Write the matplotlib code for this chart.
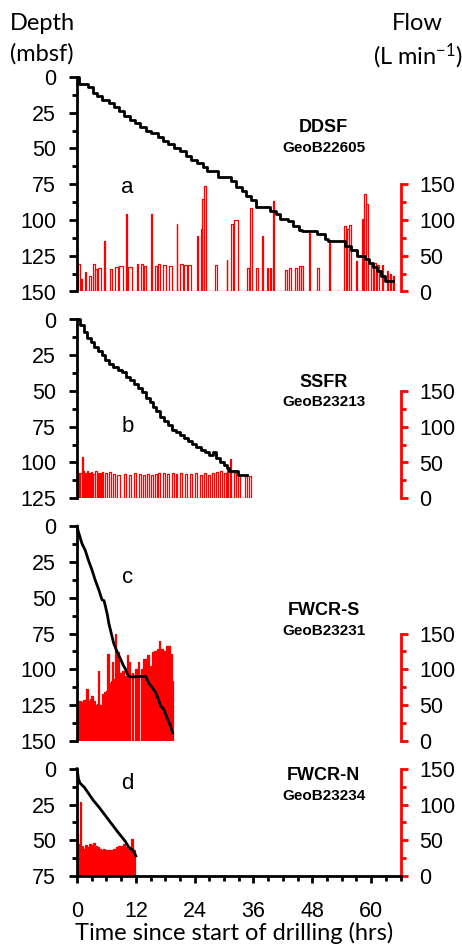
import matplotlib
matplotlib.use("Agg")
import matplotlib.pyplot as plt
from matplotlib.ticker import MultipleLocator, FixedLocator

plt.rcParams['font.family'] = ['Liberation Sans', 'DejaVu Sans']
plt.rcParams['mathtext.default'] = 'regular'

# ---- DDSF / GeoB22605 ----
ddsf_time = [0, 0.5, 2.2, 3.2, 4.0, 5.0, 6.5, 7.5, 8.5, 9.6, 10.8, 11.8, 12.8, 14.0, 15.0,
             16.5, 17.5, 18.5, 19.8, 21.0, 22.2, 23.2, 24.5, 25.8, 26.5, 28.8, 31.5, 32.5,
             33.6, 34.5, 35.5, 36.5, 39.4, 40.5, 41.5, 43.0, 44.0, 45.2, 46.0, 49.0, 50.5,
             51.2, 54.6, 55.8, 57.2, 58.7, 59.6, 60.4, 61.2, 62.0, 62.8, 64.5]
ddsf_depth = [0, 5, 7, 11, 13, 16, 18, 21, 24, 27, 30, 32, 35, 38, 39, 42, 45, 47, 50, 52,
              55, 58, 60, 63, 66, 70, 73, 77, 80, 83, 86, 91, 94, 96, 99, 101, 104, 107, 108,
              110, 113, 115, 118, 121, 125, 127, 130, 133, 136, 139, 143, 143]
ddsf_flow_start = [0.3, 0.9, 1.6, 2.4, 3.3, 3.7, 4.3, 5.6, 6.7, 7.8, 8.6, 10.0, 10.5, 12.2,
                   13.0, 13.6, 15.0, 16.0, 16.5, 17.6, 18.8, 20.3, 21.1, 21.9, 22.7, 24.4,
                   25.3, 25.6, 26.0, 28.2, 30.5, 31.5, 32.0, 34.6, 35.2, 36.6, 37.7, 38.7,
                   39.3, 39.9, 42.5, 43.2, 44.5, 45.2, 45.8, 47.3, 49.0, 51.4, 54.5, 55.0,
                   55.5, 56.9, 58.1, 58.6, 59.0, 60.0, 60.6, 61.2, 62.2, 63.2, 63.8, 64.4]
ddsf_flow_end = [0.6, 1.1, 1.9, 2.8, 3.6, 4.0, 4.8, 5.8, 7.2, 8.4, 9.3, 10.2, 11.3, 12.5,
                 13.4, 14.1, 15.2, 16.4, 16.9, 18.1, 19.4, 20.5, 21.7, 22.5, 23.2, 24.6,
                 25.5, 25.9, 26.3, 28.6, 30.7, 31.9, 32.8, 35.0, 35.8, 36.9, 37.9, 39.0,
                 39.6, 40.1, 42.9, 43.7, 44.9, 45.6, 46.1, 47.5, 49.4, 51.6, 54.8, 55.4,
                 55.8, 57.2, 58.3, 58.9, 59.4, 60.3, 61.0, 61.6, 62.5, 63.4, 64.1, 64.7]
ddsf_flow = [39, 18, 27, 22, 39, 32, 33, 71, 32, 34, 36, 108, 34, 39, 38, 35, 109, 35, 38,
             37, 35, 94, 38, 37, 37, 77, 87, 129, 148, 37, 44, 95, 100, 33, 117, 33, 77, 33,
             33, 126, 30, 33, 33, 35, 35, 83, 33, 72, 92, 88, 93, 42, 101, 137, 122, 38, 40,
             37, 37, 28, 25, 22]

# ---- SSFR / GeoB23213 ----
ssfr_time = [0, 0.7, 1.4, 2.1, 2.8, 3.5, 4.3, 5.0, 5.8, 6.6, 7.4, 8.3, 9.2, 10.0, 10.9, 11.7,
             12.5, 13.3, 14.0, 14.8, 15.5, 16.2, 17.0, 17.8, 18.6, 19.4, 20.2, 21.0, 21.8,
             22.6, 23.4, 24.3, 25.2, 26.1, 27.0, 27.8, 28.3, 29.2, 29.9, 30.6, 31.0, 32.8, 34.6]
ssfr_depth = [0, 4, 9, 13, 16, 19, 22, 25, 28, 31, 33, 35, 37, 40, 42, 45, 48, 51, 55, 58,
              61, 64, 68, 71, 74, 77, 79, 81, 83, 85, 87, 89, 91, 93, 95, 93, 97, 100, 102,
              104, 106, 109, 109]
ssfr_flow_start = [0.05, 0.3, 0.6, 1.1, 1.3, 1.65, 2.0, 2.45, 2.85, 3.3, 3.75, 4.2, 4.6, 5.0,
                   5.8, 6.6, 7.3, 8.2, 9.5, 10.6, 11.7, 12.6, 13.4, 14.2, 15.0, 15.9, 16.6,
                   17.5, 18.4, 19.3, 20.1, 21.1, 22.1, 23.1, 24.0, 25.0, 25.9, 26.8, 27.6,
                   28.4, 29.2, 29.9, 30.5, 31.2, 32.0, 32.9, 34.2, 35.0]
ssfr_flow_end = [0.25, 0.5, 0.95, 1.2, 1.5, 1.85, 2.3, 2.7, 3.1, 3.6, 4.0, 4.45, 4.85, 5.4,
                 6.2, 7.0, 7.7, 8.7, 9.9, 11.0, 12.1, 13.0, 13.8, 14.6, 15.5, 16.3, 17.0,
                 17.9, 18.8, 19.7, 20.5, 21.5, 22.5, 23.5, 24.4, 25.4, 26.3, 27.2, 28.0,
                 28.8, 29.6, 30.3, 30.9, 31.4, 32.4, 33.2, 34.6, 35.4]
ssfr_flow = [38, 36, 35, 57, 38, 36, 38, 35, 37, 34, 38, 36, 35, 37, 36, 37, 34, 33, 34, 33,
             35, 34, 33, 34, 33, 34, 35, 35, 34, 35, 34, 35, 34, 34, 35, 33, 35, 33, 35, 37,
             38, 36, 40, 55, 35, 31, 31, 31]

# ---- FWCR-S / GeoB23231 ----
fwcrs_time = [0, 0.3, 1.0, 1.7, 2.3, 3.0, 3.7, 4.4, 5.1, 5.5, 5.8, 6.2, 6.5, 7.0, 7.5, 8.2,
              8.9, 9.4, 9.9, 10.2, 10.6, 11.3, 12.5, 14.0, 14.7, 15.4, 16.1, 16.6, 17.1,
              17.5, 17.8, 18.5, 19.0, 19.5]
fwcrs_depth = [0, 4, 12, 17, 23.5, 30, 37.5, 44, 51.4, 52, 56, 62, 68, 75, 82, 88, 93, 97,
               100, 103, 105, 105.5, 105, 105, 110, 113, 116.5, 121, 126, 127, 129, 135, 139,
               144.5]
fwcrs_flow_start = [0.1, 0.5, 0.9, 1.3, 1.7, 1.9, 2.2, 2.6, 2.9, 3.2, 3.6, 4.0, 4.3, 4.5,
                    5.0, 5.5, 6.0, 6.2, 6.5, 6.9, 7.2, 7.4, 7.7, 7.9, 8.2, 8.5, 8.9, 9.2,
                    9.5, 9.9, 10.2, 10.5, 11.2, 11.9, 12.4, 13.1, 13.5, 14.2, 14.7, 15.2,
                    15.7, 16.3, 16.7, 17.2, 17.7, 18.1, 18.6, 19.1, 19.45]
fwcrs_flow_end = [0.5, 0.9, 1.3, 1.7, 1.9, 2.2, 2.6, 2.9, 3.2, 3.6, 4.0, 4.3, 4.5, 5.0, 5.5,
                  6.0, 6.2, 6.5, 6.9, 7.2, 7.4, 7.7, 7.9, 8.2, 8.5, 8.9, 9.2, 9.5, 9.9, 10.2,
                  10.5, 10.9, 11.5, 12.3, 12.7, 13.4, 14.0, 14.6, 15.1, 15.6, 16.1, 16.6,
                  17.0, 17.5, 18.0, 18.5, 19.0, 19.4, 19.6]
fwcrs_flow = [55, 56, 54, 57, 55, 72, 56, 58, 63, 55, 50, 52, 98, 50, 65, 68, 70, 122, 81,
              84, 110, 86, 150, 90, 124, 95, 85, 97, 90, 88, 120, 110, 95, 100, 110, 100,
              115, 120, 105, 124, 125, 128, 140, 128, 125, 132, 133, 122, 83]

# ---- FWCR-N / GeoB23234 ----
fwcrn_time = [0, 0.3, 0.6, 1.5, 2.3, 3.3, 4.4, 5.4, 6.5, 7.5, 8.5, 9.2, 9.9, 10.4, 10.9,
              11.3, 11.6, 12.0]
fwcrn_depth = [0, 7, 10, 13, 17, 22, 26.5, 31, 36, 40.5, 45, 48, 51, 54, 56, 56.5, 58, 61]
fwcrn_flow_start = [0.05, 0.35, 0.6, 0.95, 1.3, 1.7, 2.1, 2.5, 2.9, 3.3, 3.7, 4.1, 4.5, 4.9,
                    5.4, 5.9, 6.4, 6.9, 7.4, 7.9, 8.4, 8.9, 9.4, 9.9, 10.5, 11.1, 11.6]
fwcrn_flow_end = [0.3, 0.55, 0.9, 1.25, 1.6, 2.0, 2.4, 2.8, 3.2, 3.6, 4.0, 4.4, 4.8, 5.2,
                  5.7, 6.2, 6.7, 7.2, 7.7, 8.2, 8.7, 9.2, 9.7, 10.2, 10.8, 11.4, 11.9]
fwcrn_flow = [59, 45, 104, 42, 38, 44, 40, 45, 44, 46, 42, 40, 38, 36, 38, 37, 37, 36, 38,
              40, 42, 42, 45, 40, 38, 52, 37]

site_names = ["DDSF", "SSFR", "FWCR-S", "FWCR-N"]
core_ids = ["GeoB22605", "GeoB23213", "GeoB23231", "GeoB23234"]
panel_letters = ["a", "b", "c", "d"]
depth_max = [150, 125, 150, 75]


def pulse_trace(start, end, val):
    t, f = [0.0], [0.0]
    for s, e, v in zip(start, end, val):
        t += [s, s, e, e]
        f += [0, v, v, 0]
    return t, f


panels = [
    (ddsf_time, ddsf_depth, ddsf_flow_start, ddsf_flow_end, ddsf_flow, False, 'steps-post'),
    (ssfr_time, ssfr_depth, ssfr_flow_start, ssfr_flow_end, ssfr_flow, False, 'steps-post'),
    (fwcrs_time, fwcrs_depth, fwcrs_flow_start, fwcrs_flow_end, fwcrs_flow, True, 'default'),
    (fwcrn_time, fwcrn_depth, fwcrn_flow_start, fwcrn_flow_end, fwcrn_flow, True, 'default'),
]
# label positions (time, depth) inside each panel
title_pos = [(50.3, 35.5), (50.3, 44), (50.3, 59), (50.3, 5)]
letter_pos = [(10.3, 77), (10.3, 75), (10.3, 36), (10.3, 10.5)]

W, H = 462, 946
fig = plt.figure(figsize=(W / 100, H / 100), dpi=100)
left_px, right_px, top_px = 77, 401, 77
px_per_m, gap_px = 1.43, 28
xmax = 66.1

top = top_px
for i, (t, d, fs, fe, fv, filled, ds) in enumerate(panels):
    h = depth_max[i] * px_per_m
    ax = fig.add_axes([left_px / W, 1 - (top + h) / H, (right_px - left_px) / W, h / H])
    top += h + gap_px
    axf = ax.twinx()
    ax.set_zorder(axf.get_zorder() + 1)
    ax.patch.set_visible(False)

    # flow (red, right axis)
    ft, ff = pulse_trace(fs, fe, fv)
    axf.plot(ft, ff, color='red', lw=0.9)
    if filled:
        axf.fill_between(ft, ff, 0, color='red', lw=0)
    axf.set_ylim(0, 2 * depth_max[i])
    axf.set_xlim(0, xmax)
    for s in ['left', 'top', 'bottom']:
        axf.spines[s].set_visible(False)
    axf.spines['right'].set_color('red')
    axf.spines['right'].set_linewidth(2)
    axf.spines['right'].set_bounds(0, 150)
    axf.yaxis.set_major_locator(FixedLocator([0, 50, 100, 150]))
    axf.yaxis.set_minor_locator(FixedLocator([25, 75, 125]))
    axf.tick_params(axis='y', which='major', direction='out', length=5, width=2,
                    color='red', labelsize=15.5, pad=8)
    axf.tick_params(axis='y', which='minor', direction='out', length=3.5, width=2, color='red')

    # depth (black, left axis)
    ax.plot(t, d, color='black', lw=2, drawstyle=ds, clip_on=False)
    ax.set_ylim(depth_max[i], 0)
    ax.set_xlim(0, xmax)
    for s in ['right', 'top', 'bottom']:
        ax.spines[s].set_visible(False)
    ax.spines['left'].set_linewidth(2)
    ax.yaxis.set_major_locator(MultipleLocator(25))
    ax.yaxis.set_minor_locator(MultipleLocator(12.5))
    ax.tick_params(axis='y', which='major', direction='out', length=6, width=2,
                   labelsize=15.5, pad=9)
    ax.tick_params(axis='y', which='minor', direction='out', length=3.5, width=2)

    if i == len(panels) - 1:
        ax.spines['bottom'].set_visible(True)
        ax.spines['bottom'].set_linewidth(2)
        ax.xaxis.set_major_locator(MultipleLocator(12))
        ax.xaxis.set_minor_locator(MultipleLocator(3))
        ax.tick_params(axis='x', which='major', direction='out', length=5, width=2,
                       labelsize=15.5, pad=13)
        ax.tick_params(axis='x', which='minor', direction='out', length=3.5, width=2)
    else:
        ax.tick_params(axis='x', which='both', bottom=False, labelbottom=False)

    ax.text(title_pos[i][0], title_pos[i][1], site_names[i], ha='center', va='center',
            fontsize=13, fontweight='bold')
    ax.text(title_pos[i][0], title_pos[i][1] + 14, core_ids[i],
            ha='center', va='center', fontsize=11, fontweight='bold')
    ax.text(letter_pos[i][0], letter_pos[i][1], panel_letters[i], ha='center', va='center',
            fontsize=16)

lab_font = dict(family=['Lato', 'DejaVu Sans'], fontsize=17, ha='center', va='center')
fig.text(42 / W, 1 - 24 / H, "Depth", **lab_font)
fig.text(42 / W, 1 - 54 / H, "(mbsf)", **lab_font)
fig.text(417 / W, 1 - 24 / H, "Flow", **lab_font)
fig.text(418 / W, 1 - 56 / H, "(L min$^{-1}$)", **lab_font)
fig.text(234 / W, 1 - 933 / H, "Time since start of drilling (hrs)", **lab_font)

fig.savefig("out.png", dpi=100)
